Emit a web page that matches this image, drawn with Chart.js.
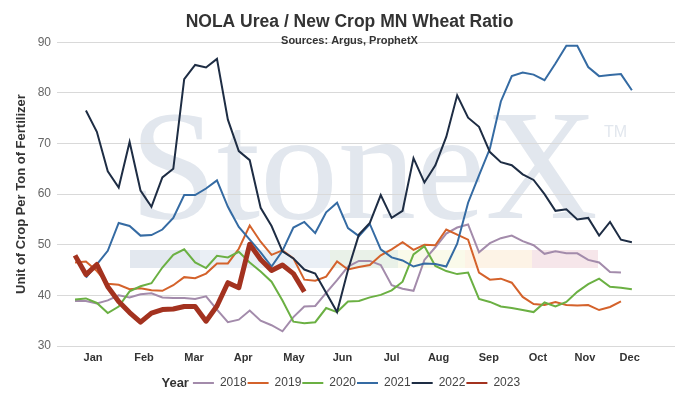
<!DOCTYPE html>
<html>
<head>
<meta charset="utf-8">
<title>NOLA Urea / New Crop MN Wheat Ratio</title>
<script src="https://cdn.jsdelivr.net/npm/chart.js@4.4.1/dist/chart.umd.min.js"></script>
<style>
  html, body { margin: 0; padding: 0; background: #fff; }
  #wrap { width: 695px; height: 403px; position: relative; }
</style>
</head>
<body>
<div id="wrap"><canvas id="ratioChart"></canvas></div>
<script>
// week index of each weekly observation
const weeks = [1,2,3,4,5,6,7,8,9,10,11,12,13,14,15,16,17,18,19,20,21,22,23,24,25,26,
               27,28,29,30,31,32,33,34,35,36,37,38,39,40,41,42,43,44,45,46,47,48,49,50,51,52];

const months = ['Jan','Feb','Mar','Apr','May','Jun','Jul','Aug','Sep','Oct','Nov','Dec'];
const monthPos = [2.65, 7.32, 11.9, 16.4, 21.05, 25.5, 30.0, 34.3, 38.9, 43.4, 47.7, 51.8];

const years = ['2018', '2019', '2020', '2021', '2022', '2023'];
const colors = ['#a38bab', '#d4622b', '#6bb043', '#356ba3', '#1e2d44', '#a3321f'];

const y2018 = [38.9, 38.9, 38.4, 39.0, 40.0, 39.6, 40.2, 40.4, 39.6, 39.5, 39.5, 39.3, 39.8, 37.2,
  34.7, 35.2, 37.0, 35.0, 34.1, 32.9, 35.7, 37.8, 37.9, 40.5, 43.0, 45.7, 46.8, 46.8, 46.0, 42.0,
  41.3, 40.9, 47.0, 49.5, 52.2, 53.4, 54.0, 48.5, 50.3, 51.3, 51.8, 50.7, 49.9, 48.2, 48.7, 48.3,
  48.3, 47.0, 46.5, 44.6, 44.5];
const y2019 = [46.5, 46.7, 44.8, 42.3, 42.1, 41.2, 41.4, 41.0, 40.9, 42.0, 43.6, 43.4, 44.3, 46.3,
  46.3, 49.2, 53.8, 50.6, 48.0, 48.9, 47.3, 43.1, 42.9, 43.7, 46.7, 45.1, 45.6, 46.0, 47.9, 49.1,
  50.5, 49.0, 50.0, 49.9, 53.0, 52.0, 51.0, 44.5, 43.1, 43.3, 42.5, 39.7, 38.3, 38.1, 38.7, 38.1,
  38.0, 38.1, 37.1, 37.7, 38.8];
const y2020 = [39.2, 39.4, 38.5, 36.5, 37.8, 40.8, 41.8, 42.4, 45.5, 48.0, 49.1, 46.5, 45.4, 47.8,
  47.5, 48.6, 46.5, 44.7, 42.7, 39.0, 34.8, 34.5, 34.7, 37.5, 36.7, 38.8, 38.9, 39.6, 40.1, 41.0,
  42.7, 48.1, 49.7, 45.8, 44.8, 44.2, 44.5, 39.3, 38.7, 37.8, 37.5, 37.1, 36.7, 38.6, 37.8, 38.7,
  40.7, 42.2, 43.3, 41.7, 41.5, 41.2];
const y2021 = [null, 43.5, 46.1, 48.8, 54.3, 53.7, 51.8, 51.9, 53.0, 55.3, 59.8, 59.8, 61.1, 62.7,
  57.5, 53.5, 51.0, 48.5, 45.7, 48.8, 53.4, 54.5, 52.3, 56.4, 58.3, 53.3, 51.7, 54.1, 49.1, 47.5,
  46.9, 45.7, 46.3, 46.2, 45.7, 50.2, 58.3, 63.7, 69.0, 78.3, 83.3, 84.0, 83.6, 82.5, 85.8, 89.3,
  89.3, 85.1, 83.3, 83.5, 83.7, 80.5];
const y2022 = [null, 76.5, 72.3, 64.5, 61.3, 70.3, 60.7, 57.5, 63.3, 65.0, 82.7, 85.5, 85.0, 86.7,
  74.7, 68.5, 66.7, 57.3, 53.7, 48.7, 47.3, 45.1, 44.3, 40.5, 36.7, 45.0, 52.0, 54.3, 59.8, 55.3,
  56.7, 67.1, 62.3, 65.7, 71.3, 79.5, 75.1, 73.3, 68.3, 66.3, 65.7, 63.9, 62.8, 60.0, 56.7, 57.0,
  55.0, 55.3, 51.8, 54.5, 51.0, 50.5];
const y2023 = [47.9, 44.1, 46.1, 41.7, 38.8, 36.6, 34.7, 36.5, 37.2, 37.3, 37.8, 37.8, 34.9, 37.9,
  42.5, 41.5, 50.1, 47.1, 44.9, 46.0, 44.3, 40.7];

const series = [y2018, y2019, y2020, y2021, y2022, y2023];

Chart.defaults.font.family = "'Liberation Sans', Arial, sans-serif";

// StoneX watermark behind everything
const watermark = {
  id: 'watermark',
  beforeDraw(chart) {
    const ctx = chart.ctx;
    ctx.save();
    const band = [[130, 200, '#e3e8ef'], [200, 330, '#eaeff5'], [330, 398, '#e9f1e8'],
                  [398, 465, '#fafaea'], [465, 532, '#fdf3e6'], [532, 598, '#f6e6ea']];
    band.forEach(b => { ctx.fillStyle = b[2]; ctx.fillRect(b[0], 250, b[1] - b[0], 18); });
    ctx.fillStyle = 'rgb(226,231,238)';
    ctx.font = "156px 'Liberation Serif', 'Times New Roman', serif";
    ctx.textBaseline = 'alphabetic';
    ctx.fillText('StoneX', 130, 218);
    ctx.font = "16px 'Liberation Sans', Arial, sans-serif";
    ctx.fillText('TM', 604, 137);
    ctx.restore();
  }
};

// nudge title / legend to where the original puts them, and write "Year" before the legend
const legendYear = {
  id: 'legendYear',
  afterLayout(chart) {
    const shift = (box, d) => { box.left += d; box.right += d; };
    shift(chart.legend, 19);
    shift(chart.titleBlock, 12);
    chart.boxes.filter(b => b.options && b.options.text === 'Sources: Argus, ProphetX')
      .forEach(b => shift(b, 12));
  },
  afterDraw(chart) {
    const box = chart.legend.legendHitBoxes[0];
    if (!box) return;
    const ctx = chart.ctx;
    ctx.save();
    ctx.font = "bold 13px 'Liberation Sans', Arial, sans-serif";
    ctx.fillStyle = '#333';
    ctx.textAlign = 'right';
    ctx.textBaseline = 'middle';
    ctx.fillText('Year', box.left - 4, box.top + box.height / 2);
    ctx.restore();
  }
};

const datasets = series.map((vals, i) => ({
  label: years[i],
  data: vals.map((v, j) => ({ x: weeks[j], y: v })),
  borderColor: colors[i],
  backgroundColor: colors[i],
  borderWidth: years[i] === '2023' ? 5 : 2,
  borderJoinStyle: years[i] === '2023' ? 'round' : 'miter',
  pointRadius: 0,
  tension: 0,
  order: series.length - 1 - i
}));

new Chart('ratioChart', {
  type: 'line',
  data: { datasets },
  options: {
    responsive: true,
    maintainAspectRatio: false,
    animation: false,
    layout: { padding: { left: 0, right: 20, top: 0, bottom: 4 } },
    plugins: {
      title: {
        display: true,
        text: 'NOLA Urea / New Crop MN Wheat Ratio',
        color: '#333',
        font: { size: 17.5, weight: 'bold' },
        padding: { top: 12, bottom: 0 }
      },
      subtitle: {
        display: true,
        text: 'Sources: Argus, ProphetX',
        color: '#333',
        font: { size: 11, weight: 'bold' },
        padding: { top: 1, bottom: -5 }
      },
      legend: {
        position: 'bottom',
        labels: {
          boxWidth: 21,
          boxHeight: 2,
          padding: 1,
          color: '#444',
          font: { size: 12 },
          sort: (a, b) => a.datasetIndex - b.datasetIndex,
          generateLabels(chart) {
            const items = Chart.defaults.plugins.legend.labels.generateLabels(chart);
            items.forEach(it => { it.lineWidth = 0; it.fillStyle = it.strokeStyle; });
            return items;
          }
        }
      },
      tooltip: { enabled: false }
    },
    scales: {
      x: {
        type: 'linear',
        min: -0.65,
        max: 55.95,
        afterBuildTicks(scale) { scale.ticks = monthPos.map(v => ({ value: v })); },
        afterFit(scale) { scale.height = 30; },
        grid: { display: false, drawTicks: false },
        border: { display: false },
        ticks: {
          autoSkip: false,
          maxRotation: 0,
          padding: 5,
          color: '#333',
          font: { size: 11, weight: 'bold' },
          callback: (v, i) => months[i]
        }
      },
      y: {
        min: 30,
        max: 90,
        afterFit(scale) { scale.width = 57; },
        grid: { color: '#d9d9d9', drawTicks: false },
        border: { display: false },
        ticks: { stepSize: 10, padding: 6, color: '#666', font: { size: 12 } },
        title: {
          display: true,
          text: 'Unit of Crop Per Ton of Fertilizer',
          color: '#333',
          font: { size: 13, weight: 'bold' },
          padding: { top: 14, bottom: 0 }
        }
      }
    }
  },
  plugins: [watermark, legendYear]
});
</script>
</body>
</html>
